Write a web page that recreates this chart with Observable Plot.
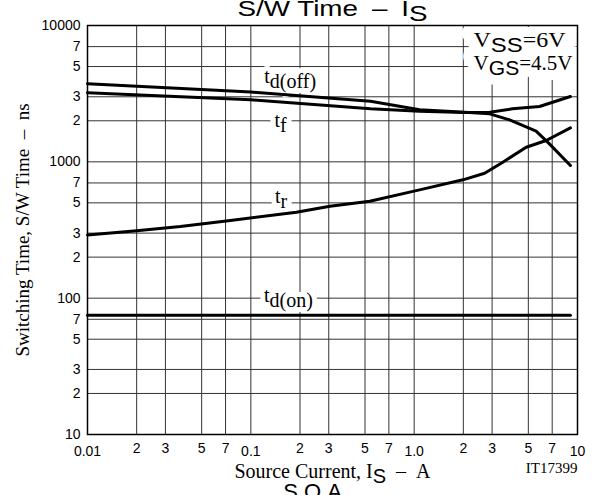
<!DOCTYPE html>
<html>
<head>
<meta charset="utf-8">
<script src="https://cdn.jsdelivr.net/npm/d3@7"></script>
<script src="https://cdn.jsdelivr.net/npm/@observablehq/plot@0.6"></script>
<style>
  html, body { margin: 0; padding: 0; background: #fff; }
</style>
</head>
<body>
<div id="chart"></div>
<script>
// ---- data ----
const tdOffI = [0.01, 0.1, 0.54, 1.08, 2.04, 2.9, 3.84, 5.58, 6.73, 9.05];
const tdOffT = [3740, 3250, 2780, 2406, 2311, 2250, 2030, 1680, 1355, 940];

const tfI = [0.01, 0.1, 0.54, 1.08, 2.04, 2.9, 4.0, 5.85, 9.05];
const tfT = [3210, 2850, 2450, 2351, 2300, 2311, 2448, 2545, 3013];

const trI = [0.01, 0.02, 0.037, 0.075, 0.19, 0.305, 0.535, 1.03, 1.99, 2.7, 3.49, 4.85, 6.43, 9.05];
const trT = [291, 312, 335, 371, 427, 472, 514, 615, 738, 825, 994, 1280, 1433, 1776];

const tdOnI = [0.01, 9.05];
const tdOnT = [75, 75];

// curve labels (annotation anchors in data space)
const curveLabels = ["t_{d(off)}", "t_{f}", "t_{r}", "t_{d(on)}"];
const curveLabelI = [0.174, 0.152, 0.153, 0.170];
const curveLabelT = [4190, 2000, 552, 104.5];

// condition box
const condLabels = ["V_s{SS}=6V", "V_s{GS}=4.5V"];
const condI = [2.31, 2.31];
const condT = [7764, 5263];

// grid and ticks
const xGrid = [0.02, 0.03, 0.05, 0.07, 0.1, 0.2, 0.3, 0.5, 0.7, 1, 2, 3, 5, 7];
const yGrid = [20, 30, 50, 70, 100, 200, 300, 500, 700, 1000, 2000, 3000, 5000, 7000];
const xMinorTicks = [0.02, 0.03, 0.05, 0.07, 0.2, 0.3, 0.5, 0.7, 2, 3, 5, 7];
const xMinorLabels = ["2", "3", "5", "7", "2", "3", "5", "7", "2", "3", "5", "7"];
const xDecadeTicks = [0.01, 0.1, 1, 10];
const xDecadeLabels = ["0.01", "0.1", "1.0", "10"];
const yTicks = [10, 20, 30, 50, 70, 100, 200, 300, 500, 700, 1000, 2000, 3000, 5000, 7000, 10000];
const yTickLabels = ["10", "2", "3", "5", "7", "100", "2", "3", "5", "7", "1000", "2", "3", "5", "7", "10000"];

const titleText = "S/W Time\u2002\u2013\u2002I_s{S}";
const xLabelText = "Source Current, I_s{S}\u2002\u2013\u2002A";
const yLabelText = "Switching Time, S/W Time\u2002\u2013\u2002ns";
const codeText = "IT17399";
const footText = "S.O.A";

// ---- build tables ----
const curves = [
  ...tdOffI.map((I, i) => ({series: "td(off)", I, T: tdOffT[i]})),
  ...tfI.map((I, i) => ({series: "tf", I, T: tfT[i]})),
  ...trI.map((I, i) => ({series: "tr", I, T: trT[i]})),
  ...tdOnI.map((I, i) => ({series: "td(on)", I, T: tdOnT[i]}))
];
const labelRows = curveLabels.map((text, i) => ({text, I: curveLabelI[i], T: curveLabelT[i]}));
const condRows = condLabels.map((text, i) => ({text, I: condI[i], T: condT[i]}));
const xMinorRows = xMinorTicks.map((v, i) => ({v, text: xMinorLabels[i]}));
const xDecadeRows = xDecadeTicks.map((v, i) => ({v, text: xDecadeLabels[i]}));
const yRows = yTicks.map((v, i) => ({v, text: yTickLabels[i]}));

const SERIF = "Liberation Serif, Times New Roman, serif";
const SANS = "Liberation Sans, Arial, Helvetica, sans-serif";

const labelOpts = {x: "I", y: "T", text: "text", fontFamily: SERIF, fontSize: 20};
const condOpts = {x: "I", y: "T", text: "text", textAnchor: "start", fontFamily: SERIF, fontSize: 20};

const chart = Plot.plot({
  width: 605,
  height: 495,
  marginLeft: 87,
  marginRight: 28,
  marginTop: 25,
  marginBottom: 61,
  style: {fontFamily: SANS, fontSize: "14px", background: "#fff", color: "#000", overflow: "visible"},
  x: {type: "log", domain: [0.01, 10], axis: null},
  y: {type: "log", domain: [10, 10000], axis: null},
  marks: [
    Plot.ruleX(xGrid, {stroke: "#333", strokeWidth: 1}),
    Plot.ruleY(yGrid, {stroke: "#333", strokeWidth: 1}),
    // white boxes (halos) behind labels
    Plot.text(labelRows, {...labelOpts, fill: "white", stroke: "white", strokeWidth: 10, strokeLinejoin: "round"}),
    Plot.text(condRows, {...condOpts, fill: "white", stroke: "white", strokeWidth: 20, strokeLinejoin: "round"}),
    Plot.text(labelRows, {...labelOpts, fill: "black"}),
    Plot.text(condRows, {...condOpts, fill: "black"}),
    Plot.line(curves, {x: "I", y: "T", z: "series", stroke: "black", strokeWidth: 3, strokeLinejoin: "round"}),
    Plot.frame({stroke: "black", strokeWidth: 1.5}),
    // tick labels
    Plot.text(xMinorRows, {x: "v", text: "text", frameAnchor: "bottom", lineAnchor: "top", dy: 9, fontSize: 14, fill: "black"}),
    Plot.text(xDecadeRows, {x: "v", text: "text", frameAnchor: "bottom", lineAnchor: "top", dy: 12, fontSize: 14, fill: "black"}),
    Plot.text(yRows, {y: "v", text: "text", frameAnchor: "left", textAnchor: "end", dx: -7, fontSize: 14, fill: "black"}),
    // titles
    Plot.text([titleText], {frameAnchor: "top", lineAnchor: "bottom", dy: -10, fontSize: 22, fontFamily: SANS, fill: "black"}),
    Plot.text([xLabelText], {frameAnchor: "bottom", lineAnchor: "bottom", dy: 43, fontSize: 20, fontFamily: SERIF, fill: "black"}),
    Plot.text([codeText], {frameAnchor: "bottom-right", textAnchor: "end", lineAnchor: "bottom", dy: 38, fontSize: 15, fontFamily: SERIF, fill: "black"}),
    Plot.text([footText], {frameAnchor: "bottom", lineAnchor: "top", dx: -20, dy: 49, fontSize: 22, fontFamily: SANS, fill: "black"}),
    Plot.text([yLabelText], {frameAnchor: "left", textAnchor: "middle", rotate: -90, dx: -65, fontSize: 19, fontFamily: SERIF, fill: "black"})
  ]
});

document.getElementById("chart").appendChild(chart);

// ---- subscript markup: _{..} (same family) and _s{..} (sans) ----
function applySubscripts(svg) {
  const NS = "http://www.w3.org/2000/svg";
  const nodes = Array.from(svg.querySelectorAll("text, tspan")).filter(el => el.children.length === 0 && el.textContent.includes("_"));
  for (const el of nodes) {
    const s = el.textContent;
    const fs = parseFloat(getComputedStyle(el).fontSize) || 16;
    const shift = Math.round(fs * 0.23);
    const re = /_(s?)\{([^}]*)\}/g;
    el.textContent = "";
    let last = 0, m, shifted = false;
    const add = (txt, attrs) => {
      const t = document.createElementNS(NS, "tspan");
      t.textContent = txt;
      for (const k in attrs) t.setAttribute(k, attrs[k]);
      el.appendChild(t);
    };
    while ((m = re.exec(s))) {
      if (m.index > last) {
        add(s.slice(last, m.index), shifted ? {dy: -shift} : {});
        shifted = false;
      }
      const attrs = {dy: shift};
      if (m[1]) attrs["font-family"] = SANS;
      add(m[2], attrs);
      shifted = true;
      last = re.lastIndex;
    }
    if (last < s.length) add(s.slice(last), shifted ? {dy: -shift} : {});
  }
}
applySubscripts(chart);

// stretch a few texts to the widths seen in the reference
function fitWidth(svg, prefix, width) {
  for (const el of svg.querySelectorAll("text")) {
    if (el.textContent.startsWith(prefix)) {
      el.setAttribute("textLength", width);
      el.setAttribute("lengthAdjust", "spacingAndGlyphs");
    }
  }
}
fitWidth(chart, "S/W Time", 190);
fitWidth(chart, "VSS", 92);
fitWidth(chart, "VGS", 99);
</script>
</body>
</html>
